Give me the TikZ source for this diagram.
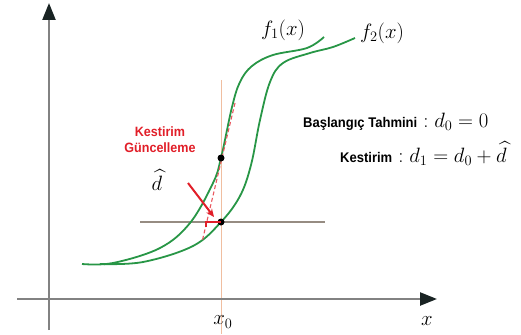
\documentclass[tikz,border=0pt]{standalone}
\usepackage{fontspec}
\usepackage{amsmath}
\usetikzlibrary{arrows.meta}
\newfontfamily\lblfont[FakeStretch=0.93]{Liberation Sans}
\definecolor{curvegreen}{RGB}{40,150,70}
\definecolor{axisgray}{RGB}{130,130,130}
\definecolor{tipdark}{RGB}{25,35,35}
\definecolor{redlbl}{RGB}{225,30,40}
\definecolor{guidepeach}{RGB}{240,190,160}
\definecolor{guidegray}{RGB}{150,140,130}
\tikzset{
  axisline/.style={draw=axisgray, line width=2.4pt, -{Triangle[length=17pt,width=13pt,fill=tipdark,color=tipdark]}},
  curve/.style={draw=curvegreen, line width=1.8pt, smooth, tension=0.6},
  dot/.style={circle, fill=black, inner sep=0pt, minimum size=7pt},
  redtxt/.style={text=redlbl, font=\lblfont\bfseries\fontsize{13.5}{15}\selectfont, inner sep=0pt},
  rtxt/.style={font=\lblfont\bfseries\fontsize{14}{16}\selectfont, inner sep=0pt},
  mathtxt/.style={font=\fontsize{20}{24}\selectfont, inner sep=0pt},
  rmath/.style={font=\fontsize{21}{24}\selectfont, inner sep=0pt},
}
\begin{document}
\begin{tikzpicture}[x=1pt,y=-1pt]
\useasboundingbox (0,0) rectangle (521,334);
% guide lines
\coordinate (vtop) at (221,80);
\coordinate (vbot) at (221,334);
\coordinate (hl) at (140,222);
\coordinate (hr) at (325,222);
\draw[guidepeach, line width=0.9pt] (vtop) -- (vbot);
\draw[guidegray, line width=1.1pt] (hl) -- (hr);
% axes
\coordinate (ybot) at (49,330);
\coordinate (ytop) at (49,3);
\coordinate (xleft) at (17,299);
\coordinate (xright) at (437,299);
\draw[axisline] (ybot) -- (ytop);
\draw[axisline] (xleft) -- (xright);
% curves
\draw[curve] plot coordinates {(82,264) (113,263) (160,248) (190,223) (213,183) (221,158) (232,107) (240,82) (252,66) (273,55) (307,48) (324,37)};
\draw[curve] plot coordinates {(100,264) (143,262) (193,246) (221,222) (240,196) (251,165) (260,120) (270,82) (283,63) (310,53) (333,47) (355,38)};
% tangent
\coordinate (ta) at (235,103);
\coordinate (tb) at (202,242);
\draw[redlbl!75, dash pattern=on 4pt off 2.5pt, line width=1.1pt] (ta) -- (tb);
% points
\node[dot] (p1) at (221,158) {};
\node[dot] (p0) at (221,222) {};
% red update segment
\coordinate (dl) at (206,222);
\coordinate (dlt) at (206,227);
\draw[redlbl, line width=2.6pt] (dlt) -- (dl) -- (p0.center);
% red arrow
\coordinate (as) at (188,183);
\coordinate (ae) at (214,217);
\draw[redlbl, line width=2pt, -{Stealth[length=8pt,width=7pt]}] (as) -- (ae);
% labels
\node[redtxt] (k1) at (160,132) {Kestirim};
\node[redtxt] (k2) at (160,148) {Güncelleme};
\node[mathtxt] (dh) at (157,180) {$\widehat{d}$};
\node[mathtxt] (f1) at (283,30) {$f_1(x)$};
\node[mathtxt] (f2) at (382,33) {$f_2(x)$};
\node[mathtxt] (xl) at (427,321) {$x$};
\node[mathtxt] (x0) at (223,322) {$x_0$};
\node[rtxt, anchor=base west] (t1) at (303,127) {Başlangıç Tahmini};
\node[rmath, anchor=base west] (m1) at (t1.base east) {$\;{:}\;d_0 = 0$};
\node[rtxt, anchor=base west] (t2) at (340,162) {Kestirim};
\node[rmath, anchor=base west] (m2) at (t2.base east) {$\;{:}\;d_1 = d_0 + \widehat{d}$};
\end{tikzpicture}
\end{document}
